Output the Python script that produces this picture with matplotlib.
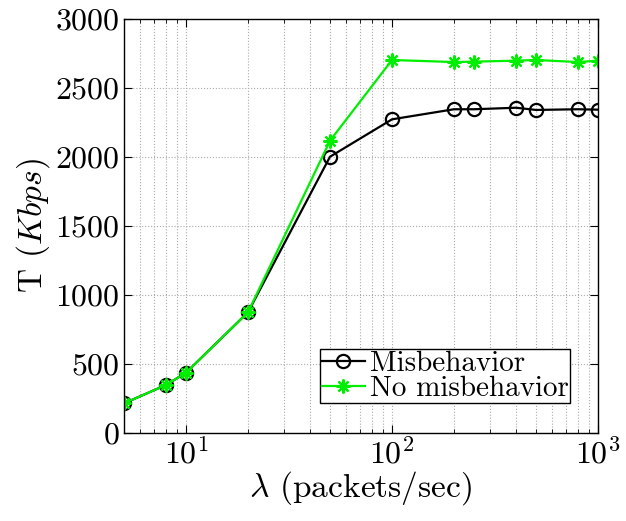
import matplotlib
matplotlib.use("Agg")
import matplotlib.pyplot as plt
from matplotlib.ticker import NullFormatter

plt.rcParams['font.family'] = ['cmr10', 'DejaVu Serif']
plt.rcParams['mathtext.fontset'] = 'cm'
plt.rcParams['axes.formatter.use_mathtext'] = True

lam = [5, 8, 10, 20, 50, 100, 200, 250, 400, 500, 800, 1000]
misbehavior = [215, 348, 437, 875, 2002, 2273, 2346, 2346, 2357, 2341, 2346, 2343]
no_misbehavior = [215, 348, 437, 875, 2118, 2703, 2688, 2691, 2698, 2703, 2688, 2698]
y_ticks = [0, 500, 1000, 1500, 2000, 2500, 3000]

fig = plt.figure(figsize=(6.26, 5.21), dpi=100)
ax = fig.add_axes([124/626, 88/521, 474/626, 414/521])

ax.plot(lam, misbehavior, color='black', lw=1.6, marker='o', ms=9.5,
        mfc='none', mec='black', mew=1.6, label='Misbehavior')
ax.plot(lam, no_misbehavior, color='#00EE00', lw=1.6, marker=(8, 2, 0), ms=10,
        mec='#00EE00', mew=1.6, label='No misbehavior')

ax.set_xscale('log')
ax.set_xlim(5, 1000)
ax.set_ylim(0, 3000)
ax.set_yticks(y_ticks)
ax.xaxis.set_minor_formatter(NullFormatter())

ax.grid(True, which='major', axis='both', linestyle=':', color='#aaaaaa', lw=0.8)
ax.grid(True, which='minor', axis='x', linestyle=':', color='#aaaaaa', lw=0.8)

ax.tick_params(which='both', direction='in', top=True, right=True, labelsize=23)
ax.tick_params(which='major', length=6, width=0.8, pad=3)
ax.tick_params(which='minor', length=3, width=0.6)
for s in ax.spines.values():
    s.set_linewidth(1.0)

ax.set_xlabel(r'$\lambda$ (packets/sec)', fontsize=24, labelpad=0)
ax.set_ylabel(r'T $(Kbps)$', fontsize=24, labelpad=2)

leg = ax.legend(loc='lower right', bbox_to_anchor=(0.941, 0.072), fontsize=21,
                frameon=True, fancybox=False, edgecolor='black', framealpha=1,
                handlelength=1.5, handletextpad=0.15, borderpad=0.05,
                labelspacing=-0.05, borderaxespad=0)
leg.get_frame().set_linewidth(1.0)

fig.savefig('out.png', dpi=100)
